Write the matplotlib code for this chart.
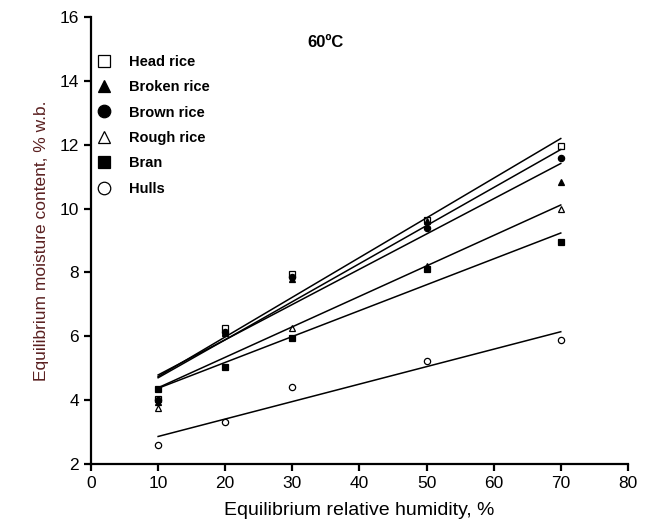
import numpy as np
import matplotlib.pyplot as plt

plt.rcParams['font.family'] = ['Liberation Sans', 'DejaVu Sans']

# equilibrium relative humidity, %
erh = [10, 20, 30, 50, 70]

# equilibrium moisture content, % w.b. at 60 C
head_rice = [4.05, 6.25, 7.95, 9.65, 11.95]
broken_rice = [3.95, 6.10, 7.80, 9.60, 10.85]
brown_rice = [4.00, 6.15, 7.85, 9.40, 11.60]
rough_rice = [3.75, 6.15, 6.25, 8.20, 10.00]
bran = [4.35, 5.05, 5.95, 8.10, 8.95]
hulls = [2.60, 3.30, 4.40, 5.22, 5.90]

series = [
    ("Head rice", head_rice, 's', 'none'),
    ("Broken rice", broken_rice, '^', 'black'),
    ("Brown rice", brown_rice, 'o', 'black'),
    ("Rough rice", rough_rice, '^', 'none'),
    ("Bran", bran, 's', 'black'),
    ("Hulls", hulls, 'o', 'none'),
]

fig = plt.figure(figsize=(6.52, 5.19), dpi=100)
ax = fig.add_axes([0.1396, 0.106, 0.8234, 0.861])

x = np.array(erh)
for name, y, m, fc in series:
    ax.plot(x, y, linestyle='none', marker=m, markersize=4.5,
            markerfacecolor=fc, markeredgecolor='black', markeredgewidth=0.9,
            label=name)
    # linear regression line
    k, b = np.polyfit(x, y, 1)
    xs = np.array([x.min(), x.max()])
    ax.plot(xs, k * xs + b, color='black', linewidth=1.1)

ax.set_xlim(0, 80)
ax.set_ylim(2, 16)
ax.set_xticks(range(0, 81, 10))
ax.set_yticks(range(2, 17, 2))
ax.spines['top'].set_visible(False)
ax.spines['right'].set_visible(False)
ax.spines['left'].set_linewidth(1.6)
ax.spines['bottom'].set_linewidth(1.6)
ax.tick_params(direction='out', length=5, width=1.6, labelsize=12.5)

ax.set_xlabel("Equilibrium relative humidity, %", fontsize=14, labelpad=8)
ax.set_ylabel("Equilibrium moisture content, % w.b.", fontsize=12.5,
              color='#5a2020', labelpad=8)
ax.text(35, 15.05, "60ºC", fontsize=12, fontweight='bold', ha='center')

leg = ax.legend(loc='upper left', bbox_to_anchor=(-0.014, 0.945), frameon=False,
                markerscale=2.0, handletextpad=1.2, labelspacing=0.78,
                prop={'weight': 'bold', 'size': 10.5}, handlelength=1.0)

fig.savefig("out.png", dpi=100)
